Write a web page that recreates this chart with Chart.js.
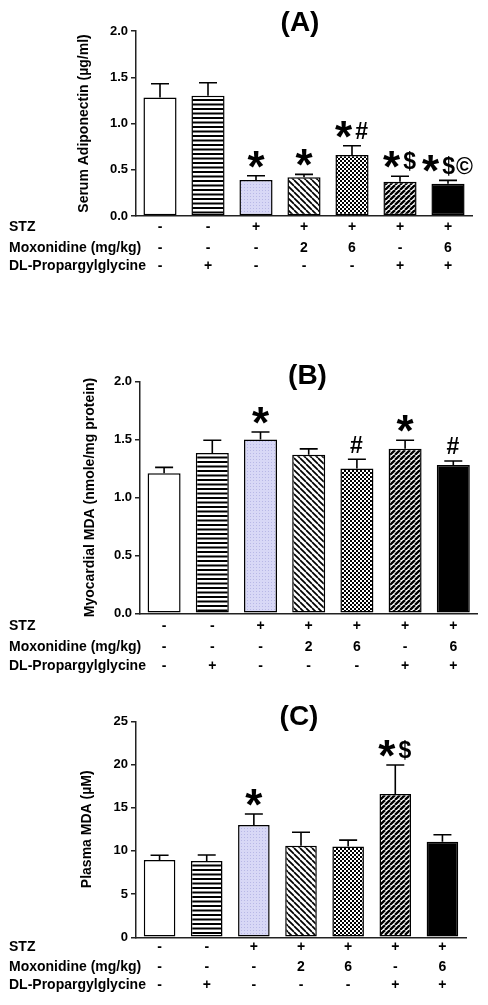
<!DOCTYPE html>
<html><head><meta charset="utf-8">
<script src="https://cdn.jsdelivr.net/npm/chart.js@4.4.0/dist/chart.umd.min.js"></script>
<style>
html,body{margin:0;padding:0;background:#fff;width:488px;height:1005px;overflow:hidden}
canvas{position:absolute;left:0}
</style></head><body>
<canvas id="cA" style="top:0px" width="488" height="290"></canvas>
<canvas id="cB" style="top:290px" width="488" height="390"></canvas>
<canvas id="cC" style="top:680px" width="488" height="325"></canvas>
<script>
// ---------- data ----------
const groups = ['Control','PAG','STZ','STZ+Mox 2','STZ+Mox 6','STZ+PAG','STZ+Mox 6+PAG'];
const rowLabels = ['STZ','Moxonidine (mg/kg)','DL-Propargylglycine'];
const stzRow = ['-','-','+','+','+','+','+'];
const moxRow = ['-','-','-','2','6','-','6'];
const pagRow = ['-','+','-','-','-','+','+'];

const adipoMean = [1.28, 1.30, 0.39, 0.42, 0.66, 0.37, 0.35];
const adipoSem  = [0.15, 0.14, 0.045, 0.03, 0.10, 0.06, 0.035];
const adipoMarks = ['', '', '*', '*', '*#', '*$', '*$©'];
const adipoTicks = [0, 0.5, 1.0, 1.5, 2.0];

const myoMean = [1.21, 1.385, 1.50, 1.37, 1.25, 1.42, 1.28];
const myoSem  = [0.05, 0.11, 0.065, 0.05, 0.08, 0.075, 0.035];
const myoMarks = ['', '', '*', '', '#', '*', '#'];
const myoTicks = [0, 0.5, 1.0, 1.5, 2.0];

const plasmaMean = [8.95, 8.83, 13.0, 10.6, 10.5, 16.6, 11.07];
const plasmaSem  = [0.55, 0.70, 1.27, 1.55, 0.75, 3.35, 0.80];
const plasmaMarks = ['', '', '*', '', '', '*$', ''];
const plasmaTicks = [0, 5, 10, 15, 20, 25];

// ---------- patterns ----------
function tile(w, h, draw){
  const c = document.createElement('canvas'); c.width = w; c.height = h;
  const g = c.getContext('2d'); draw(g, w, h);
  return document.createElement('canvas').getContext('2d').createPattern(c, 'repeat');
}
const pWhite = '#ffffff';
const pHoriz = tile(9, 9, (g,w,h)=>{g.fillStyle='#fff';g.fillRect(0,0,w,h);g.fillStyle='#000';g.fillRect(0,0,w,2);g.fillRect(0,4.5,w,2);});
const pLav = tile(3, 3, (g,w,h)=>{g.fillStyle='#d8d8f6';g.fillRect(0,0,w,h);g.fillStyle='#b8b8e6';g.fillRect(1,1,1,1);});
const pBack = tile(6, 6, (g,w,h)=>{g.fillStyle='#fff';g.fillRect(0,0,w,h);g.strokeStyle='#000';g.lineWidth=1.7;
  for(const o of [-6,0,6]){g.beginPath();g.moveTo(o,0);g.lineTo(o+6,6);g.stroke();}});
const pCheck = tile(4, 4, (g,w,h)=>{g.fillStyle='#fff';g.fillRect(0,0,w,h);g.fillStyle='#000';g.fillRect(0,0,2,2);g.fillRect(2,2,2,2);});
const pFwd = tile(5, 5, (g,w,h)=>{g.fillStyle='#fff';g.fillRect(0,0,w,h);g.strokeStyle='#000';g.lineWidth=2.3;
  for(const o of [-5,0,5]){g.beginPath();g.moveTo(o,5);g.lineTo(o+5,0);g.stroke();}});
const fills = [pWhite, pHoriz, pLav, pBack, pCheck, pFwd, '#000'];

// ---------- decoration plugin ----------
const FONT = '"Liberation Sans", Arial, sans-serif';
const STAR = 44, SMALL = 23;
const deco = {
  id: 'deco',
  afterDatasetsDraw(chart, args, o){
    const ctx = chart.ctx, meta = chart.getDatasetMeta(0), y = chart.scales.y;
    const vals = chart.data.datasets[0].data;
    ctx.save();
    ctx.strokeStyle = '#000'; ctx.lineWidth = 1.6;
    meta.data.forEach((bar, i) => {
      const top = y.getPixelForValue(vals[i] + o.sem[i]);
      ctx.beginPath();
      ctx.moveTo(bar.x, bar.y); ctx.lineTo(bar.x, top);
      ctx.moveTo(bar.x - o.cap/2, top); ctx.lineTo(bar.x + o.cap/2, top);
      ctx.stroke();
      const m = o.marks[i];
      if (!m) return;
      const chars = [...m];
      const parts = chars.map((ch, k) => {
        const big = ch === '*';
        const f = 'bold ' + (big ? STAR : SMALL) + 'px ' + FONT;
        ctx.font = f;
        const gap = (big && k < chars.length - 1) ? 3 : (big ? 0 : 1);
        return {ch, f, big, w: ctx.measureText(ch).width + gap};
      });
      const total = parts.reduce((s,p)=>s+p.w, 0);
      let x = bar.x - total/2;
      const c = top - 15.5;
      ctx.fillStyle = '#000'; ctx.textAlign = 'left'; ctx.textBaseline = 'alphabetic';
      parts.forEach(p => {
        ctx.font = p.f;
        ctx.fillText(p.ch, x, c + (p.big ? 0.49*STAR : 0.38*SMALL));
        x += p.w;
      });
    });
    ctx.restore();
  },
  afterDraw(chart, args, o){
    const ctx = chart.ctx, meta = chart.getDatasetMeta(0), b = chart.chartArea.bottom;
    ctx.save();
    ctx.fillStyle = '#000';
    ctx.font = 'bold 28px ' + FONT; ctx.textAlign = 'center'; ctx.textBaseline = 'middle';
    ctx.fillText(o.title, o.titleX, o.titleY);
    ctx.font = 'bold 14px ' + FONT;
    const rows = [stzRow, moxRow, pagRow];
    rows.forEach((row, r) => {
      const yy = b + o.rowOff[r];
      ctx.textAlign = 'left';
      ctx.fillText(rowLabels[r], 9, yy);
      ctx.textAlign = 'center';
      row.forEach((s, i) => ctx.fillText(s, meta.data[i].x, yy));
    });
    ctx.restore();
  }
};

function makeChart(id, mean, sem, marks, ticks, yTitle, L){
  return new Chart(document.getElementById(id), {
    type: 'bar',
    data: { labels: groups, datasets: [{
      data: mean, backgroundColor: fills, borderColor: '#000', borderWidth: 1.5,
      borderSkipped: false, barPercentage: L.barPct, categoryPercentage: 1
    }]},
    options: {
      responsive: false, animation: false, devicePixelRatio: 1,
      layout: { padding: L.pad },
      plugins: { legend: {display:false}, tooltip: {enabled:false}, title: {display:false},
        deco: { sem, marks, cap: 18, title: L.title, titleX: L.titleX, titleY: L.titleY, rowOff: L.rowOff } },
      scales: {
        x: { grid: {display:false}, ticks: {display:false},
             border: {display:true, color:'#222', width:1.5},
             afterFit: s => { s.height = 0; } },
        y: { min: ticks[0], max: ticks[ticks.length-1],
             afterBuildTicks: s => { s.ticks = ticks.map(v => ({value: v})); },
             afterFit: s => { s.width = L.yWidth; },
             grid: {display:true, drawOnChartArea:false, drawTicks:true, tickLength:5, color:'#222', lineWidth:1.5},
             border: {display:true, color:'#222', width:1.5},
             ticks: { padding: 3, color:'#000', font: {family: FONT, size: 13, weight:'bold'},
                      callback: v => L.dec ? Number(v).toFixed(1) : String(v) },
             title: { display:true, text: yTitle, color:'#000',
                      font: {family: FONT, size: 14, weight:'bold'},
                      padding: {top: L.titlePad, bottom: 0} } }
      }
    },
    plugins: [deco]
  });
}

makeChart('cA', adipoMean, adipoSem, adipoMarks, adipoTicks, 'Serum Adiponectin (\u00b5g/ml)',
  {pad:{top:31,bottom:74,left:0,right:16}, yWidth:136, barPct:0.69, dec:true, titlePad:75.6,
   title:'(A)', titleX:300, titleY:23.5, rowOff:[10.7,31.7,50]});
makeChart('cB', myoMean, myoSem, myoMarks, myoTicks, 'Myocardial MDA (nmole/mg protein)',
  {pad:{top:91.7,bottom:66.7,left:0,right:10.6}, yWidth:140, barPct:0.685, dec:true, titlePad:81.6,
   title:'(B)', titleX:307.5, titleY:86.5, rowOff:[12.7,33.4,52.7]});
makeChart('cC', plasmaMean, plasmaSem, plasmaMarks, plasmaTicks, 'Plasma MDA (\u00b5M)',
  {pad:{top:41.3,bottom:67.7,left:0,right:22}, yWidth:136, barPct:0.67, dec:false, titlePad:79,
   title:'(C)', titleX:299, titleY:37, rowOff:[9.4,29.4,47.7]});
</script>
</body></html>
